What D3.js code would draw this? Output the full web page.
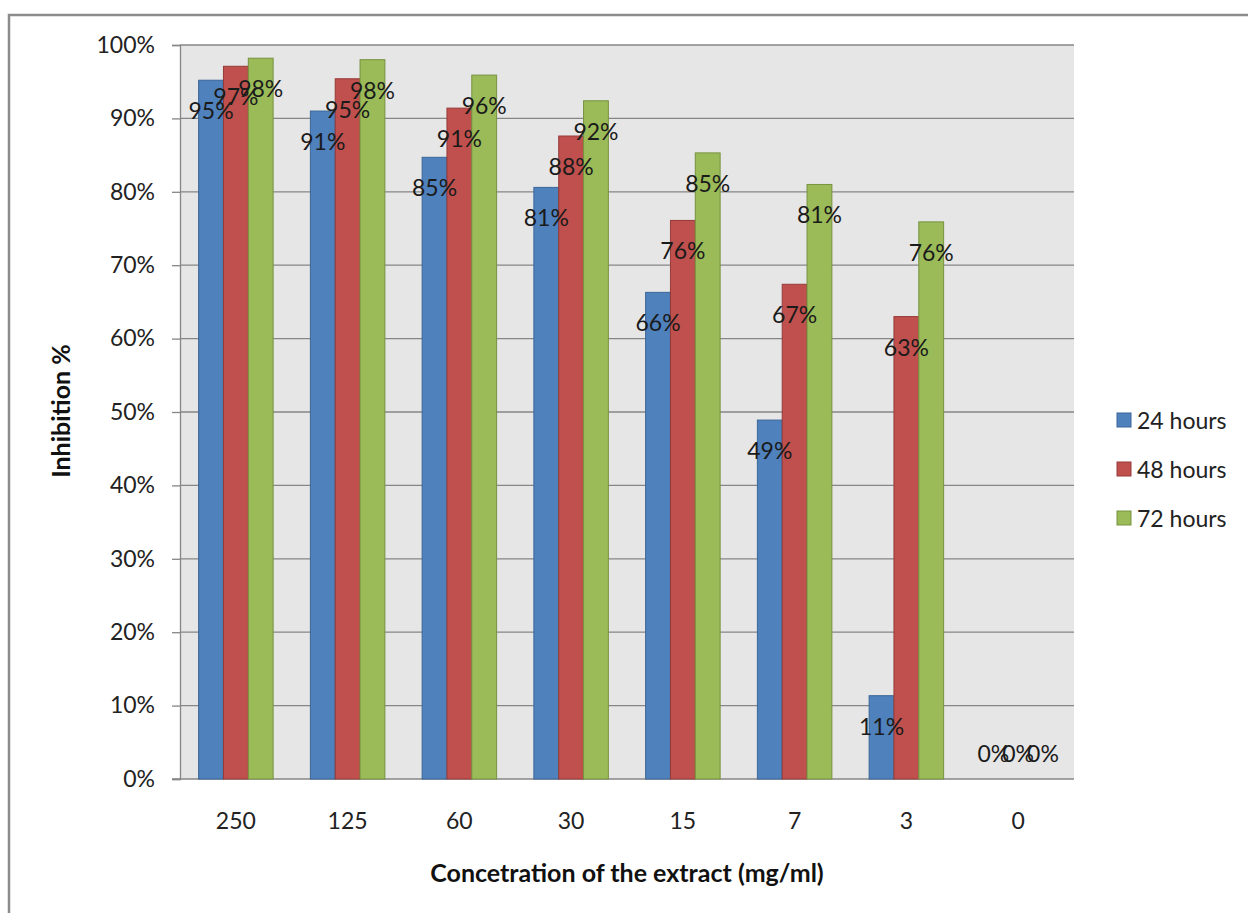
<!DOCTYPE html>
<html>
<head>
<meta charset="utf-8">
<script src="https://cdn.jsdelivr.net/npm/d3@7"></script>
<style>
  html, body { margin: 0; padding: 0; background: #ffffff; }
  svg { display: block; font-family: Lato, "Open Sans", sans-serif; }
</style>
</head>
<body>
<svg id="chart" width="1248" height="913"></svg>
<script>
// Inhibition (%) by extract concentration, three exposure times
const categories = ["250", "125", "60", "30", "15", "7", "3", "0"];
const seriesNames = ["24 hours", "48 hours", "72 hours"];
const hours24 = [0.952, 0.910, 0.847, 0.806, 0.663, 0.489, 0.1135, 0];
const hours48 = [0.971, 0.954, 0.914, 0.876, 0.761, 0.674, 0.630, 0];
const hours72 = [0.982, 0.980, 0.959, 0.924, 0.853, 0.810, 0.759, 0];
const yTicks = [0, 0.1, 0.2, 0.3, 0.4, 0.5, 0.6, 0.7, 0.8, 0.9, 1.0];

const fills = ["#4f81bd", "#c0504d", "#9bbb59"];
const strokes = ["#3a6696", "#953b39", "#77923f"];

const svg = d3.select("#chart");
const plot = { left: 180, right: 1074, top: 45, bottom: 779 };

// Outer chart border (continues past the page edges)
svg.append("rect")
  .attr("x", 9).attr("y", 15)
  .attr("width", 1400).attr("height", 1100)
  .attr("fill", "none").attr("stroke", "#8c8c8c").attr("stroke-width", 2.5);

const x0 = d3.scaleBand().domain(categories).range([plot.left, plot.right]).paddingInner(0).paddingOuter(0);
const groupWidth = x0.bandwidth() * 3 / 4.5; // three bars with a 150% gap
const x1 = d3.scaleBand().domain(seriesNames).range([0, groupWidth]).padding(0);
const y = d3.scaleLinear().domain([0, 1]).range([plot.bottom, plot.top]);

// Plot background
svg.append("rect")
  .attr("x", plot.left).attr("y", plot.top)
  .attr("width", plot.right - plot.left).attr("height", plot.bottom - plot.top)
  .attr("fill", "#e6e6e6");

// Gridlines + y axis
const yAxis = d3.axisLeft(y).tickValues(yTicks).tickFormat(d3.format(".0%"))
  .tickSize(8).tickPadding(17);
const gy = svg.append("g").attr("transform", `translate(${plot.left},0)`).call(yAxis);
gy.select(".domain").attr("stroke", "#868686").attr("stroke-width", 1.3);
gy.selectAll(".tick line").attr("stroke", "#868686").attr("stroke-width", 1.3);
gy.selectAll(".tick text").attr("fill", "#222").style("font-size", "23px").attr("font-family", "Lato");

svg.append("g").selectAll("line").data(yTicks.filter(d => d > 0)).join("line")
  .attr("x1", plot.left).attr("x2", plot.right)
  .attr("y1", d => y(d)).attr("y2", d => y(d))
  .attr("stroke", "#868686").attr("stroke-width", 1.3);

// x axis
const xAxis = d3.axisBottom(x0).tickSize(0).tickPadding(34);
const gx = svg.append("g").attr("transform", `translate(0,${plot.bottom})`).call(xAxis);
gx.select(".domain").remove();
gx.selectAll(".tick text").attr("fill", "#222").style("font-size", "23px").attr("font-family", "Lato");
svg.append("line")
  .attr("x1", plot.left - 8).attr("x2", plot.right)
  .attr("y1", plot.bottom).attr("y2", plot.bottom)
  .attr("stroke", "#868686").attr("stroke-width", 1.6);

// Bars
const rows = categories.map((c, i) => ({
  cat: c,
  vals: [hours24[i], hours48[i], hours72[i]]
}));
const groups = svg.append("g").selectAll("g").data(rows).join("g")
  .attr("transform", d => `translate(${x0(d.cat) + (x0.bandwidth() - groupWidth) / 2},0)`);

groups.selectAll("rect").data(d => d.vals.map((v, k) => ({ v, k }))).join("rect")
  .attr("x", d => x1(seriesNames[d.k]))
  .attr("y", d => y(d.v))
  .attr("width", x1.bandwidth())
  .attr("height", d => y(0) - y(d.v))
  .attr("fill", d => fills[d.k])
  .attr("stroke", d => d.v > 0 ? strokes[d.k] : "none")
  .attr("stroke-width", 1);

// Data labels
groups.selectAll("text").data(d => d.vals.map((v, k) => ({ v, k }))).join("text")
  .attr("x", d => x1(seriesNames[d.k]) + x1.bandwidth() / 2)
  .attr("y", d => (y(d.v) + 42 < plot.bottom) ? y(d.v) + 30 : y(d.v) - 26)
  .attr("text-anchor", "middle")
  .attr("dominant-baseline", "central")
  .attr("fill", "#1a1a1a")
  .style("font-size", "23px")
  .text(d => d3.format(".0%")(d.v));

// Axis titles
svg.append("text")
  .attr("transform", "translate(70,411) rotate(-90)")
  .attr("text-anchor", "middle")
  .attr("font-weight", "bold").style("font-size", "25px").attr("fill", "#111")
  .text("Inhibition %");

svg.append("text")
  .attr("x", 627).attr("y", 882)
  .attr("text-anchor", "middle")
  .attr("font-weight", "bold").style("font-size", "25px").attr("fill", "#111")
  .text("Concetration of the extract (mg/ml)");

// Legend
const legend = svg.append("g").selectAll("g").data(seriesNames).join("g")
  .attr("transform", (d, i) => `translate(1117,${420 + i * 49})`);
legend.append("rect")
  .attr("x", 0).attr("y", -7).attr("width", 14).attr("height", 14)
  .attr("fill", (d, i) => fills[i]).attr("stroke", (d, i) => strokes[i]);
legend.append("text")
  .attr("x", 20).attr("y", 0)
  .attr("dominant-baseline", "central")
  .attr("fill", "#222").style("font-size", "23px")
  .text(d => d);
</script>
</body>
</html>
